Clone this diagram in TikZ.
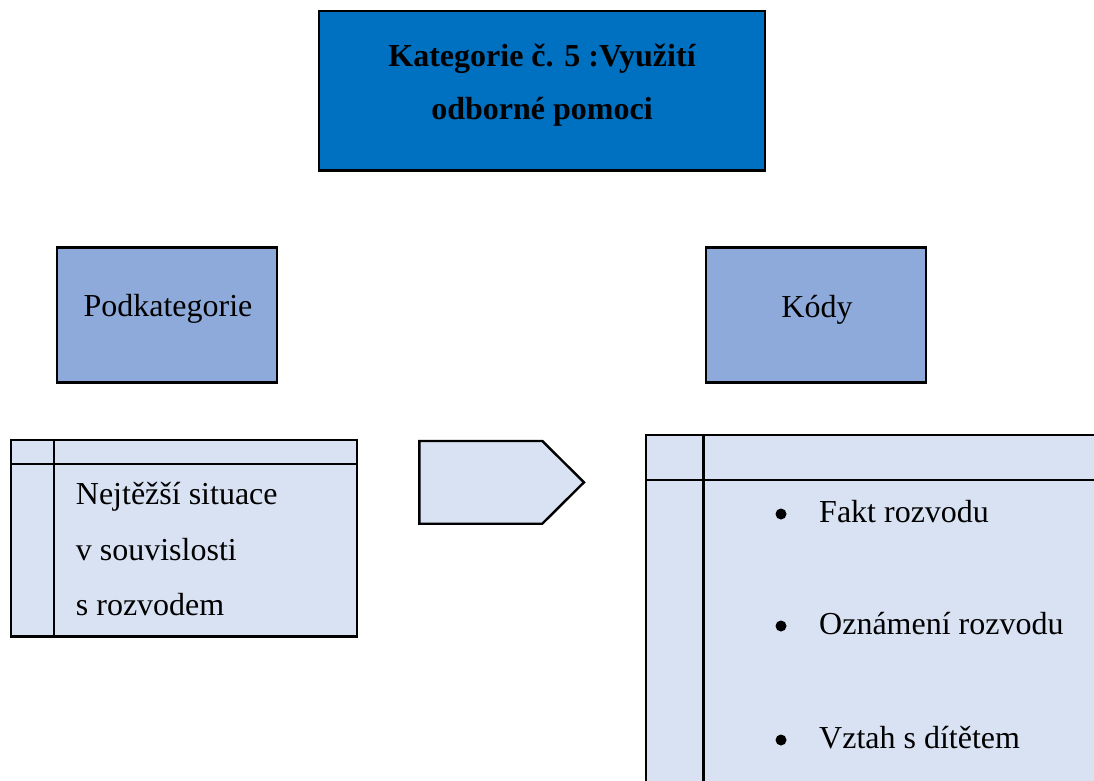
\documentclass[tikz,border=0pt]{standalone}
\usepackage{fontspec}
\setmainfont{Liberation Serif}
\definecolor{catblue}{HTML}{0070C0}
\definecolor{midblue}{HTML}{8EAADB}
\definecolor{lightblue}{HTML}{D9E2F3}
\tikzset{
  box/.style={draw=black, line width=2.4pt, inner sep=0pt},
  topbox/.style={box, fill=catblue, minimum width=446pt, minimum height=159pt},
  midbox/.style={box, fill=midblue, minimum width=220pt, minimum height=135pt},
  listbox/.style={draw=black, line width=2.4pt, fill=lightblue},
  divider/.style={draw=black, line width=2.4pt},
  txt/.style={inner sep=0pt, font=\fontsize{32}{38}\selectfont},
  btxt/.style={txt, font=\fontsize{32}{38}\selectfont\bfseries},
  bulletdot/.style={circle, fill=black, inner sep=0pt, minimum size=11pt},
}
\begin{document}
\begin{tikzpicture}[x=1pt, y=-1pt]
\useasboundingbox[fill=white] (0,0) rectangle (1094,781);

% top category box
\node[topbox] (cat) at (542,90.8) {};
\node[btxt, anchor=base] (cat1) at (542,66.7) {Kategorie č. 5 :Využití};
\node[btxt, anchor=base] (cat2) at (542,120) {odborné pomoci};

% header boxes
\node[midbox] (sub) at (167,315) {};
\node[txt, anchor=base] (subt) at (168,316.7) {Podkategorie};
\node[midbox] (kod) at (816,315) {};
\node[txt, anchor=base] (kodt) at (817,317.3) {Kódy};

% left list box
\coordinate (lnw) at (11,440);
\coordinate (lse) at (357,636.5);
\draw[listbox] (lnw) rectangle (lse);
\coordinate (lh1) at (11,464);
\coordinate (lh2) at (357,464);
\coordinate (lv1) at (54,440);
\coordinate (lv2) at (54,636.5);
\draw[divider] (lh1) -- (lh2);
\draw[divider] (lv1) -- (lv2);
\node[txt, anchor=base west] (l1) at (75.7,504.3) {Nejtěžší situace};
\node[txt, anchor=base west] (l2) at (75.7,560) {v souvislosti};
\node[txt, anchor=base west] (l3) at (75.7,615.7) {s rozvodem};

% pentagon arrow
\coordinate (p1) at (419.3,441);
\coordinate (p2) at (542.3,441);
\coordinate (p3) at (584,482.3);
\coordinate (p4) at (542.3,523.7);
\coordinate (p5) at (419.3,523.7);
\draw[listbox, line join=miter] (p1) -- (p2) -- (p3) -- (p4) -- (p5) -- cycle;

% right list box (runs off the page)
\coordinate (rnw) at (646,435);
\coordinate (rse) at (1110,800);
\draw[listbox] (rnw) rectangle (rse);
\coordinate (rh1) at (646,480);
\coordinate (rh2) at (1110,480);
\coordinate (rv1) at (703.5,435);
\coordinate (rv2) at (703.5,800);
\draw[divider] (rh1) -- (rh2);
\draw[divider] (rv1) -- (rv2);
\node[bulletdot] (b1) at (781,514) {};
\node[txt, anchor=base west] (r1) at (819,522.5) {Fakt rozvodu};
\node[bulletdot] (b2) at (781,626) {};
\node[txt, anchor=base west] (r2) at (819,634) {Oznámení rozvodu};
\node[bulletdot] (b3) at (781,740) {};
\node[txt, anchor=base west] (r3) at (819,748) {Vztah s dítětem};
\end{tikzpicture}
\end{document}
